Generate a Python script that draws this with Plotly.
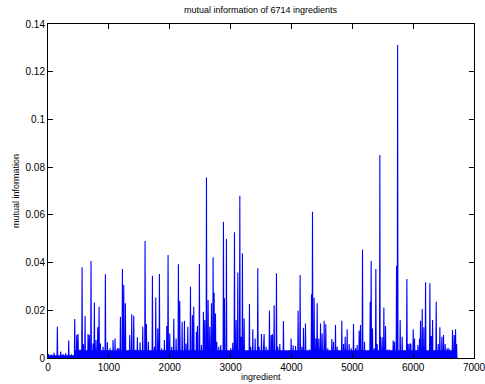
import plotly.graph_objects as go

# Spike peaks (ingredient index, mutual information)
spike_x = [10, 55, 99, 154, 209, 247, 291, 340, 384, 439, 472, 494, 527, 560, 581, 609, 658, 680, 707, 740,
           762, 789, 817, 839, 861, 905, 943, 976, 1020, 1069, 1102, 1140,
           1162, 1190, 1223, 1245, 1272, 1310, 1343, 1376, 1409, 1442, 1469, 1513, 1557, 1595, 1617, 1650, 1683,
           1716, 1749, 1771, 1804, 1831, 1869, 1913, 1952, 1973, 2001, 2034, 2067, 2105, 2143, 2165, 2204, 2242,
           2269, 2297, 2341,
           2373, 2395, 2439, 2456, 2488, 2521, 2554, 2576, 2604, 2631, 2658, 2686, 2713, 2730, 2752, 2773, 2806,
           2839, 2883, 2899, 2932, 2965, 3004, 3036, 3064, 3091, 3119, 3152, 3173, 3195, 3223, 3267, 3310, 3332,
           3365, 3404, 3447, 3469, 3508, 3541,
           3551, 3584, 3612, 3639, 3667, 3688, 3716, 3754, 3776, 3809, 3836, 3869, 3902, 3941, 3973, 3995, 4028,
           4067, 4110, 4143, 4171, 4198, 4231, 4264, 4297, 4330, 4346, 4373, 4401, 4423, 4450, 4478, 4505, 4538,
           4565, 4598, 4626, 4664, 4691, 4724, 4752,
           4795, 4828, 4856, 4883, 4916, 4949, 4982, 5020, 5053, 5080, 5113, 5135, 5168, 5201, 5234, 5267, 5294,
           5310, 5332, 5360, 5387, 5409, 5453, 5464, 5491, 5519, 5546, 5579, 5606, 5639, 5672, 5694, 5727, 5745,
           5787, 5820, 5847, 5869, 5897, 5919, 5946,
           5962, 6001, 6023, 6045, 6078, 6105, 6121, 6149, 6176, 6204, 6231, 6253, 6275, 6297, 6319, 6352, 6379,
           6412, 6439, 6472, 6499, 6527, 6560, 6587, 6614, 6647, 6675, 6697, 6714]
spike_y = [0.0017, 0.0014, 0.0022, 0.0131, 0.0027, 0.0017, 0.0020, 0.0073, 0.0015, 0.0163, 0.0096, 0.0101,
           0.0036, 0.0380, 0.0059, 0.0176, 0.0101, 0.0096, 0.0407, 0.0061, 0.0233, 0.0075, 0.0129, 0.0215,
           0.0061, 0.0047, 0.0351, 0.0066, 0.0041, 0.0075, 0.0082, 0.0041,
           0.0041, 0.0173, 0.0373, 0.0306, 0.0229, 0.0027, 0.0096, 0.0183, 0.0177, 0.0034, 0.0087, 0.0066,
           0.0131, 0.0490, 0.0142, 0.0068, 0.0017, 0.0345, 0.0047, 0.0254, 0.0124, 0.0352, 0.0041, 0.0075,
           0.0134, 0.0432, 0.0103, 0.0047, 0.0165, 0.0082, 0.0393, 0.0239, 0.0152, 0.0156, 0.0061, 0.0131,
           0.0299,
           0.0180, 0.0215, 0.0110, 0.0134, 0.0394, 0.0054, 0.0194, 0.0159, 0.0757, 0.0243, 0.0131, 0.0229,
           0.0422, 0.0274, 0.0187, 0.0068, 0.0047, 0.0054, 0.0571, 0.0250, 0.0499, 0.0020, 0.0041, 0.0064,
           0.0527, 0.0159, 0.0358, 0.0680, 0.0089, 0.0439, 0.0166, 0.0027, 0.0226, 0.0047, 0.0120, 0.0082,
           0.0376, 0.0047, 0.0101, 0.0082,
           0.0101, 0.0047, 0.0034, 0.0198, 0.0096, 0.0099, 0.0221, 0.0355, 0.0047, 0.0059, 0.0027, 0.0155,
           0.0020, 0.0022, 0.0027, 0.0082, 0.0053, 0.0050, 0.0198, 0.0348, 0.0047, 0.0127, 0.0145, 0.0020,
           0.0036, 0.0267, 0.0613, 0.0253, 0.0082, 0.0229, 0.0082, 0.0145, 0.0103, 0.0156, 0.0141, 0.0041,
           0.0022, 0.0080, 0.0068, 0.0138, 0.0047,
           0.0020, 0.0156, 0.0059, 0.0089, 0.0120, 0.0059, 0.0041, 0.0142, 0.0041, 0.0054, 0.0115, 0.0138,
           0.0455, 0.0068, 0.0027, 0.0022, 0.0236, 0.0407, 0.0124, 0.0041, 0.0373, 0.0059, 0.0851, 0.0089,
           0.0087, 0.0212, 0.0134, 0.0034, 0.0036, 0.0022, 0.0073, 0.0068, 0.0387, 0.1312, 0.0159, 0.0089,
           0.0022, 0.0022, 0.0331, 0.0059, 0.0061,
           0.0061, 0.0120, 0.0082, 0.0022, 0.0054, 0.0082, 0.0156, 0.0205, 0.0129, 0.0317, 0.0013, 0.0027,
           0.0313, 0.0092, 0.0159, 0.0020, 0.0236, 0.0059, 0.0129, 0.0089, 0.0096, 0.0059, 0.0041, 0.0041,
           0.0027, 0.0117, 0.0096, 0.0120, 0.0059]

# Dense low band (floor level)
floor_x = [0, 440, 6714]
floor_y = [0.0012, 0.0032, 0.0032]

x_ticks = [0, 1000, 2000, 3000, 4000, 5000, 6000, 7000]
y_ticks = [0, 0.02, 0.04, 0.06, 0.08, 0.1, 0.12, 0.14]
y_tick_text = ["0", "0.02", "0.04", "0.06", "0.08", "0.1", "0.12", "0.14"]

half_w = 6
line_x, line_y = [], []
for sx, sy in zip(spike_x, spike_y):
    line_x += [sx - half_w, sx, sx + half_w]
    line_y += [0, sy, 0]

fig = go.Figure()
fig.add_trace(go.Scatter(x=floor_x, y=floor_y, mode="lines", line=dict(color="#0000ff", width=0, shape="hv"),
                         fill="tozeroy", fillcolor="#0000ff", hoverinfo="skip"))
fig.add_trace(go.Scatter(x=line_x, y=line_y, mode="lines", line=dict(color="#0000ff", width=1.1)))

font = "Liberation Sans, Arial, sans-serif"
axis_common = dict(showline=True, linecolor="black", linewidth=1, mirror="allticks", ticks="inside",
                   ticklen=5, tickcolor="black", showgrid=False, zeroline=False, automargin=False,
                   ticklabeloverflow="allow",
                   tickfont=dict(family=font, size=10, color="black"))
fig.update_layout(
    width=485, height=384,
    margin=dict(l=48, r=11, t=24, b=26),
    paper_bgcolor="white", plot_bgcolor="white",
    showlegend=False,
    xaxis=dict(range=[0, 7000], tickvals=x_ticks, **axis_common),
    yaxis=dict(range=[0, 0.14], tickvals=y_ticks, ticktext=y_tick_text, **axis_common),
    annotations=[
        dict(text="mutual information of 6714 ingredients", x=0.5, y=1.0, xref="paper", yref="paper",
             yshift=14, showarrow=False, font=dict(family=font, size=9, color="black"),
             xanchor="center", yanchor="middle"),
        dict(text="ingredient", x=0.5, y=0, xref="paper", yref="paper", yshift=-19, showarrow=False,
             font=dict(family=font, size=9, color="black"), xanchor="center", yanchor="middle"),
        dict(text="mutual information", x=0, y=0.5, xref="paper", yref="paper", xshift=-32, showarrow=False,
             textangle=-90, font=dict(family=font, size=9, color="black"), xanchor="center", yanchor="middle"),
    ],
)
fig.write_html(
    "out.html",
    config={"displayModeBar": False},
    post_script=(
        "document.documentElement.style.overflow='hidden';"
        "document.body.style.margin='0px';document.body.style.overflow='hidden';"
    ),
)
